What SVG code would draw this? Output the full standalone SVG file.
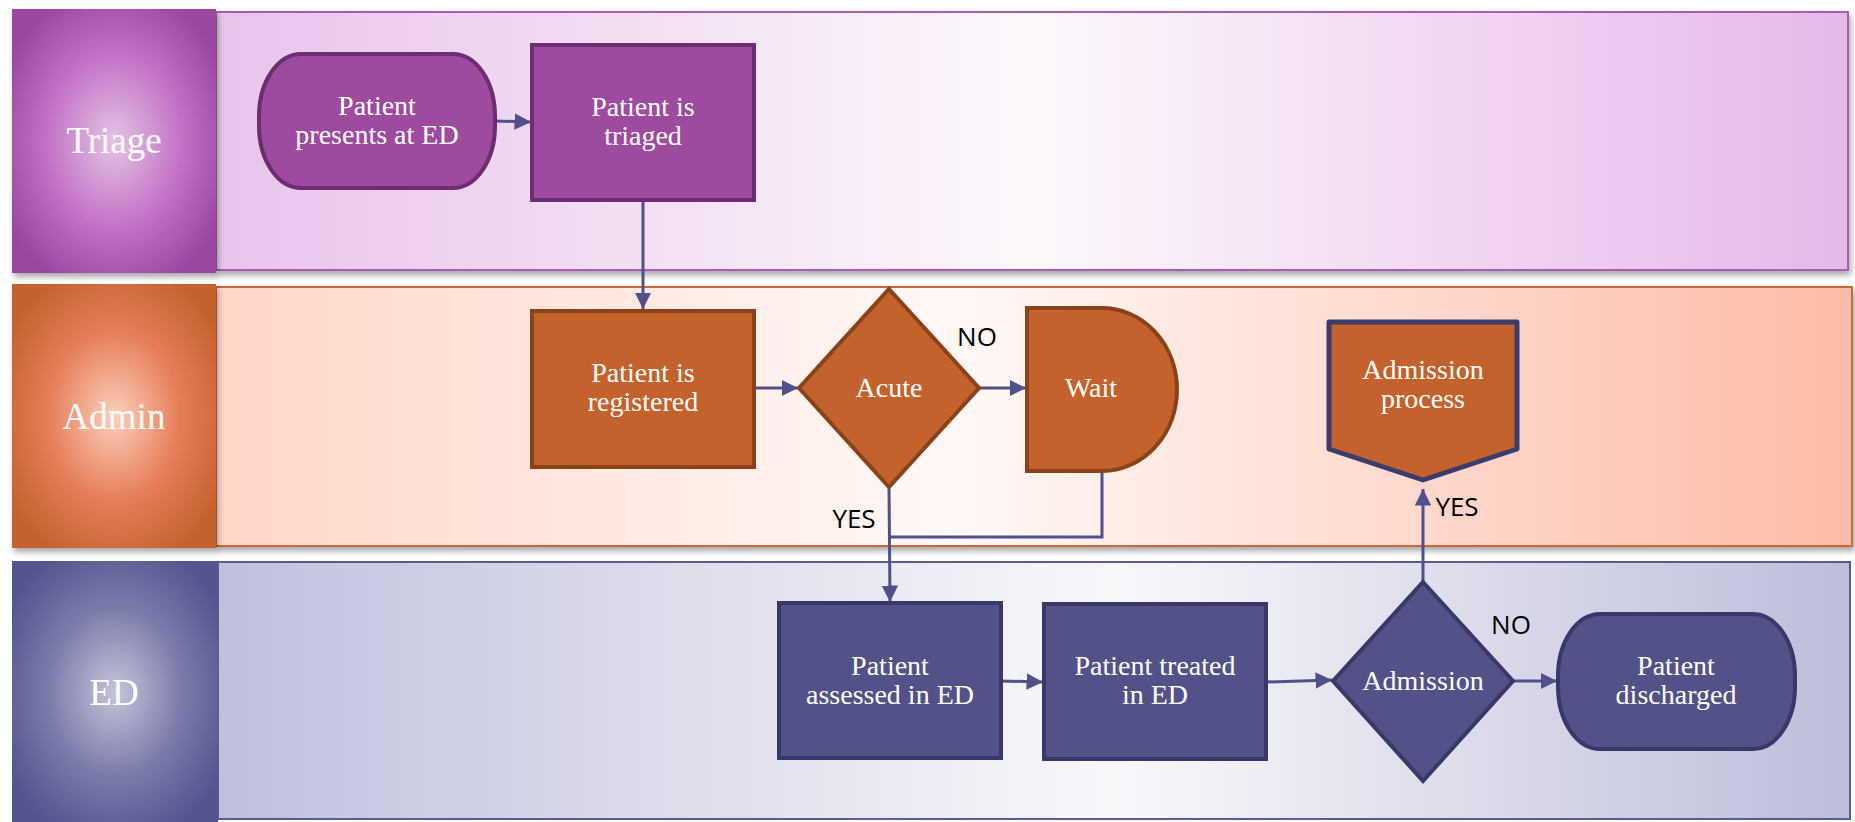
<svg xmlns="http://www.w3.org/2000/svg" width="1855" height="822" viewBox="0 0 1855 822">
  <defs>
    <style>
      .node-text { font-family: "Liberation Serif", "Times New Roman", serif; font-size: 28px; fill: #ffffff; text-anchor: middle; }
      .lane-text { font-family: "Liberation Serif", "Times New Roman", serif; font-size: 37px; fill: #ffffff; text-anchor: middle; }
      .edge-label { font-family: "Open Sans", "Liberation Sans", sans-serif; font-size: 26px; fill: #000000; text-anchor: middle; }
      .conn { fill: none; stroke: #4f508c; stroke-width: 3; }
      .purple { fill: #9e4a9f; stroke: #6e2d72; stroke-width: 4; }
      .orange { fill: #c3622d; stroke: #8a4219; stroke-width: 4; }
      .navy { fill: #525288; stroke: #38386a; stroke-width: 4; }
      .offpage { fill: #c3622d; stroke: #3c3c6c; stroke-width: 5; stroke-linejoin: round; }
    </style>
    <marker id="arrow" viewBox="0 0 10 10" refX="10" refY="5" markerWidth="5.5" markerHeight="5.5" orient="auto" markerUnits="strokeWidth">
      <path d="M0,0 L10,5 L0,10 Z" fill="#4f508c"/>
    </marker>
    <filter id="shadow" x="-5%" y="-5%" width="110%" height="120%">
      <feDropShadow dx="2" dy="4" stdDeviation="3" flood-color="#000000" flood-opacity="0.35"/>
    </filter>
    <!-- lane body gradients -->
    <linearGradient id="triageBody" x1="0" y1="0" x2="1" y2="0">
      <stop offset="0" stop-color="#e8c4ea"/>
      <stop offset="0.5" stop-color="#fdf8fc"/>
      <stop offset="1" stop-color="#e5b8e8"/>
    </linearGradient>
    <linearGradient id="adminBody" x1="0" y1="0" x2="1" y2="0">
      <stop offset="0" stop-color="#ffd6c8"/>
      <stop offset="0.45" stop-color="#fff8f6"/>
      <stop offset="1" stop-color="#fdbba6"/>
    </linearGradient>
    <linearGradient id="edBody" x1="0" y1="0" x2="1" y2="0">
      <stop offset="0" stop-color="#c0c0dc"/>
      <stop offset="0.55" stop-color="#f8f8fb"/>
      <stop offset="1" stop-color="#bdbdd9"/>
    </linearGradient>
    <!-- lane header gradients -->
    <radialGradient id="triageHead" cx="0.5" cy="0.5" r="0.6">
      <stop offset="0" stop-color="#e4c4e4"/>
      <stop offset="0.55" stop-color="#c272c6"/>
      <stop offset="1" stop-color="#9a46a0"/>
    </radialGradient>
    <radialGradient id="adminHead" cx="0.5" cy="0.5" r="0.6">
      <stop offset="0" stop-color="#fad0bc"/>
      <stop offset="0.55" stop-color="#e67c56"/>
      <stop offset="1" stop-color="#c4622d"/>
    </radialGradient>
    <radialGradient id="edHead" cx="0.5" cy="0.5" r="0.6">
      <stop offset="0" stop-color="#c4c4da"/>
      <stop offset="0.55" stop-color="#7a7aaa"/>
      <stop offset="1" stop-color="#545490"/>
    </radialGradient>
  </defs>

  <rect width="1855" height="822" fill="#ffffff"/>

  <!-- swimlanes -->
  <g id="lane-triage">
    <rect x="216" y="12" width="1632" height="258" fill="url(#triageBody)" stroke="#a85cb4" stroke-width="2" filter="url(#shadow)"/>
    <rect x="12" y="9" width="204" height="264" fill="url(#triageHead)" filter="url(#shadow)"/>
    <text class="lane-text" x="114" y="153">Triage</text>
  </g>
  <g id="lane-admin">
    <rect x="216" y="287" width="1636" height="259" fill="url(#adminBody)" stroke="#c8683a" stroke-width="2" filter="url(#shadow)"/>
    <rect x="12" y="284" width="204" height="264" fill="url(#adminHead)" filter="url(#shadow)"/>
    <text class="lane-text" x="114" y="429">Admin</text>
  </g>
  <g id="lane-ed">
    <rect x="218" y="562" width="1632" height="257" fill="url(#edBody)" stroke="#5b5b92" stroke-width="2"/>
    <rect x="12" y="561" width="206" height="261" fill="url(#edHead)"/>
    <text class="lane-text" x="114" y="705">ED</text>
  </g>

  <!-- connectors -->
  <g id="connectors">
    <path class="conn" d="M495,121 L531,122" marker-end="url(#arrow)"/>
    <path class="conn" d="M643,200 L643,309" marker-end="url(#arrow)"/>
    <path class="conn" d="M754,388 L798,388" marker-end="url(#arrow)"/>
    <path class="conn" d="M979,388 L1026,388" marker-end="url(#arrow)"/>
    <path class="conn" d="M889,487 L890,602" marker-end="url(#arrow)"/>
    <path class="conn" d="M1102,471 L1102,537 L889,537"/>
    <path class="conn" d="M1001,681 L1043,682" marker-end="url(#arrow)"/>
    <path class="conn" d="M1266,682 L1332,680" marker-end="url(#arrow)"/>
    <path class="conn" d="M1423,582 L1423,489" marker-end="url(#arrow)"/>
    <path class="conn" d="M1513,681 L1557,681" marker-end="url(#arrow)"/>
    <text class="edge-label" x="977" y="346">NO</text>
    <text class="edge-label" x="854" y="528">YES</text>
    <text class="edge-label" x="1457" y="516">YES</text>
    <text class="edge-label" x="1511" y="634">NO</text>
  </g>

  <!-- nodes -->
  <g id="node-presents">
    <rect class="purple" x="259" y="54" width="236" height="134" rx="42" ry="62"/>
    <text class="node-text" x="377" y="115">Patient</text>
    <text class="node-text" x="377" y="144">presents at ED</text>
  </g>
  <g id="node-triaged">
    <rect class="purple" x="532" y="45" width="222" height="155"/>
    <text class="node-text" x="643" y="116">Patient is</text>
    <text class="node-text" x="643" y="145">triaged</text>
  </g>
  <g id="node-registered">
    <rect class="orange" x="532" y="311" width="222" height="156"/>
    <text class="node-text" x="643" y="382">Patient is</text>
    <text class="node-text" x="643" y="411">registered</text>
  </g>
  <g id="node-acute">
    <polygon class="orange" points="889,289 979,388 889,487 799,388"/>
    <text class="node-text" x="889" y="397">Acute</text>
  </g>
  <g id="node-wait">
    <path class="orange" d="M1027,308 H1102 A75,81.5 0 0 1 1102,471 H1027 Z"/>
    <text class="node-text" x="1091" y="397">Wait</text>
  </g>
  <g id="node-admission-process">
    <polygon class="offpage" points="1329,322 1517,322 1517,449 1423,480 1329,449"/>
    <text class="node-text" x="1423" y="379">Admission</text>
    <text class="node-text" x="1423" y="408">process</text>
  </g>
  <g id="node-assessed">
    <rect class="navy" x="779" y="603" width="222" height="155"/>
    <text class="node-text" x="890" y="675">Patient</text>
    <text class="node-text" x="890" y="704">assessed in ED</text>
  </g>
  <g id="node-treated">
    <rect class="navy" x="1044" y="604" width="222" height="155"/>
    <text class="node-text" x="1155" y="675">Patient treated</text>
    <text class="node-text" x="1155" y="704">in ED</text>
  </g>
  <g id="node-admission">
    <polygon class="navy" points="1423,582 1513,681 1423,781 1333,681"/>
    <text class="node-text" x="1423" y="690">Admission</text>
  </g>
  <g id="node-discharged">
    <rect class="navy" x="1558" y="614" width="237" height="135" rx="42" ry="62"/>
    <text class="node-text" x="1676" y="675">Patient</text>
    <text class="node-text" x="1676" y="704">discharged</text>
  </g>
</svg>
